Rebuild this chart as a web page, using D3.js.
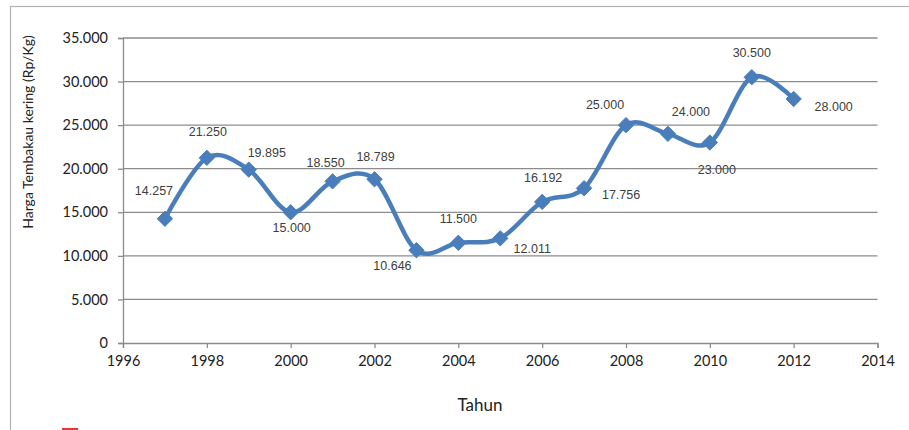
<!DOCTYPE html>
<html>
<head>
<meta charset="utf-8">
<script src="https://cdn.jsdelivr.net/npm/d3@7"></script>
<style>
  html, body { margin: 0; padding: 0; background: #fff; }
  svg { display: block; }
</style>
</head>
<body>
<svg id="chart" width="909" height="430"></svg>
<script>
// Harga tembakau kering per tahun (Rp/Kg)
const years  = [1997, 1998, 1999, 2000, 2001, 2002, 2003, 2004, 2005, 2006, 2007, 2008, 2009, 2010, 2011, 2012];
const prices = [14257, 21250, 19895, 15000, 18550, 18789, 10646, 11500, 12011, 16192, 17756, 25000, 24000, 23000, 30500, 28000];
const xTicks = [1996, 1998, 2000, 2002, 2004, 2006, 2008, 2010, 2012, 2014];
const yTicks = [0, 5000, 10000, 15000, 20000, 25000, 30000, 35000];
// placement of each value label relative to its marker
const labelPlace = [[-11,-28],[1,-26],[18,-17],[1,15],[-7,-19],[1,-23],[-24,15],[0,-24],[32,10],[1,-24],[37,6],[-21,-21],[23,-22],[7,27],[0,-25],[40,8]];

const fmt = v => d3.format(",")(v).replace(/,/g, ".").replace(/^(\d+)$/, "$1");
const fmtLabel = v => {
  const s = String(v);
  if (v < 1000) return s;
  const th = Math.floor(v / 1000), rest = String(v % 1000).padStart(3, "0");
  return th + "." + rest;
};

const svg = d3.select("#chart");

// outer frame
svg.append("rect")
  .attr("x", 10.5).attr("y", 6.5)
  .attr("width", 920).attr("height", 440)
  .attr("fill", "none").attr("stroke", "#b3b3b3").attr("stroke-width", 1.2);

const x = d3.scaleLinear().domain([1996, 2014]).range([123, 877.5]);
const y = d3.scaleLinear().domain([0, 35000]).range([343, 38]);

const gridColor = "#8c8c8c";

// horizontal gridlines
svg.append("g")
  .selectAll("line")
  .data(yTicks.filter(d => d > 0))
  .join("line")
  .attr("x1", x(1996)).attr("x2", x(2014))
  .attr("y1", d => y(d)).attr("y2", d => y(d))
  .attr("stroke", gridColor).attr("stroke-width", 1.3);

// y axis
const yAxis = svg.append("g")
  .attr("transform", `translate(${x(1996)},0)`)
  .call(d3.axisLeft(y).tickValues(yTicks).tickSize(5).tickPadding(10)
    .tickFormat(d => d === 0 ? "0" : fmtLabel(d)));
yAxis.select(".domain").attr("stroke", gridColor).attr("stroke-width", 1.3);
yAxis.selectAll(".tick line").attr("stroke", gridColor).attr("stroke-width", 1.3);
yAxis.selectAll(".tick text")
  .attr("font-family", "Lato, 'Open Sans', sans-serif")
  .attr("font-size", 14.5).attr("fill", "#222");

// x axis
const xAxis = svg.append("g")
  .attr("transform", `translate(0,${y(0)})`)
  .call(d3.axisBottom(x).tickValues(xTicks).tickSize(5).tickPadding(8)
    .tickFormat(d3.format("d")));
xAxis.select(".domain").attr("stroke", gridColor).attr("stroke-width", 1.3);
xAxis.selectAll(".tick line").attr("stroke", gridColor).attr("stroke-width", 1.3);
xAxis.selectAll(".tick text")
  .attr("font-family", "Lato, 'Open Sans', sans-serif")
  .attr("font-size", 14.5).attr("fill", "#222");

// axis titles
svg.append("text")
  .attr("x", 480).attr("y", 411)
  .attr("text-anchor", "middle")
  .attr("font-family", "Lato, 'Open Sans', sans-serif")
  .attr("font-size", 17).attr("fill", "#222")
  .text("Tahun");

svg.append("text")
  .attr("transform", "translate(33,132) rotate(-90)")
  .attr("text-anchor", "middle")
  .attr("font-family", "Lato, 'Open Sans', sans-serif")
  .attr("font-size", 14).attr("fill", "#222")
  .text("Harga Tembakau kering (Rp/Kg)");

// smoothed price line
const data = years.map((yr, i) => ({ year: yr, value: prices[i], place: labelPlace[i] }));
const line = d3.line()
  .x(d => x(d.year)).y(d => y(d.value))
  .curve(d3.curveCatmullRom.alpha(0));

svg.append("path")
  .datum(data)
  .attr("d", line)
  .attr("fill", "none")
  .attr("stroke", "#4a7ebb")
  .attr("stroke-width", 4.5)
  .attr("stroke-linejoin", "round");

// diamond markers
const diamond = d3.symbol().type(d3.symbolDiamond2).size(150);
svg.append("g")
  .selectAll("path")
  .data(data)
  .join("path")
  .attr("transform", d => `translate(${x(d.year)},${y(d.value)})`)
  .attr("d", diamond)
  .attr("fill", "#4a7ebb")
  .attr("stroke", "#4a7ebb")
  .attr("stroke-width", 1);

// value labels
svg.append("g")
  .selectAll("text")
  .data(data)
  .join("text")
  .attr("x", d => x(d.year) + d.place[0])
  .attr("y", d => y(d.value) + d.place[1])
  .attr("dy", "0.35em")
  .attr("text-anchor", "middle")
  .attr("font-family", "'Liberation Sans', Arial, sans-serif")
  .attr("font-size", 12.5)
  .attr("fill", "#404040")
  .text(d => fmtLabel(d.value));

// small legend key at the lower-left edge
svg.append("rect")
  .attr("x", 62).attr("y", 428)
  .attr("width", 16).attr("height", 3)
  .attr("fill", "#e0383b");
</script>
</body>
</html>
